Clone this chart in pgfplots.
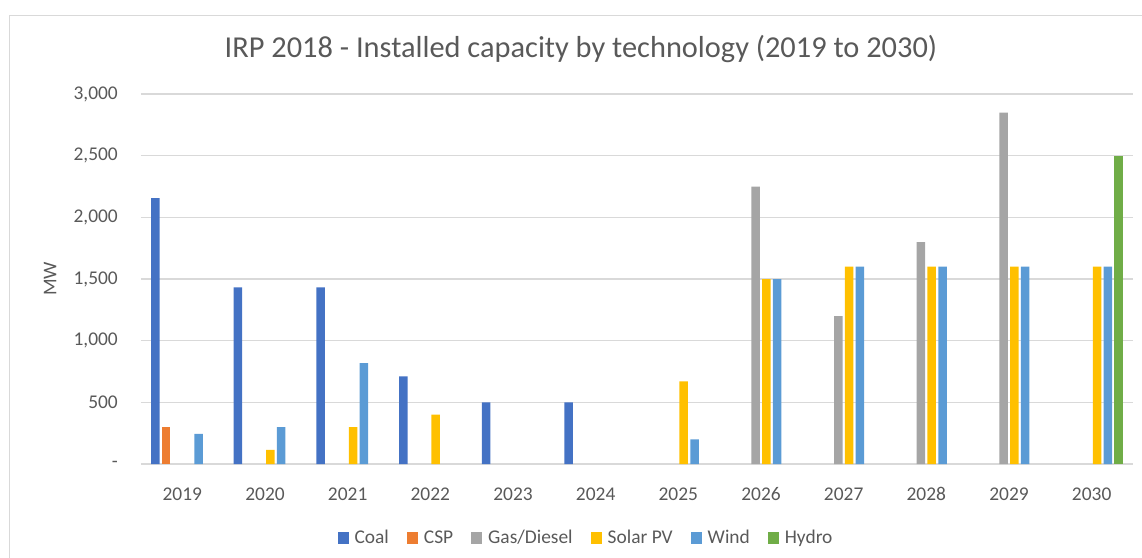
\documentclass[border=0pt]{standalone}
\usepackage{fontspec}
\setmainfont{Carlito}
\usepackage{pgfplots}
\pgfplotsset{compat=1.18}

\definecolor{txt}{HTML}{595959}
\definecolor{gridc}{HTML}{D9D9D9}
\definecolor{coal}{HTML}{4472C4}
\definecolor{csp}{HTML}{ED7D31}
\definecolor{gas}{HTML}{A5A5A5}
\definecolor{solar}{HTML}{FFC000}
\definecolor{wind}{HTML}{5B9BD5}
\definecolor{hydro}{HTML}{70AD47}

\begin{document}
\begin{tikzpicture}
\useasboundingbox (-141bp,-94bp) rectangle (1001bp,464bp);
% chart area frame (only left and top edges are inside the picture)
\draw[gridc, line width=1bp] (-131bp,-94bp) -- (-131bp,448bp) -- (1001bp,448bp);
\begin{axis}[
    at={(0,0)}, anchor=south west,
    scale only axis, width=992bp, height=370bp,
    xmin=2018.5, xmax=2030.5, ymin=0, ymax=3000,
    ybar=2.3bp, bar width=8.5bp,
    axis line style={draw=none},
    major tick length=0pt,
    ymajorgrids, grid style={gridc, line width=1.3bp},
    xtick={2019,2020,2021,2022,2023,2024,2025,2026,2027,2028,2029,2030},
    xticklabels={2019,2020,2021,2022,2023,2024,2025,2026,2027,2028,2029,2030},
    ytick={0,500,1000,1500,2000,2500,3000},
    yticklabels={{-\hspace{9bp}},500,{1,000},{1,500},{2,000},{2,500},{3,000}},
    ticklabel style={font=\fontsize{19.5}{23}\selectfont, text=txt},
    yticklabel style={inner sep=0pt, anchor=east, xshift=-23bp},
    xticklabel style={inner sep=0pt, anchor=base, yshift=-36bp},
    ylabel={MW},
    ylabel style={at={(axis description cs:-0.0917,0.5)}, anchor=center,
        font=\fontsize{19.5}{23}\selectfont, text=txt},
    title={IRP 2018 - Installed capacity by technology (2019 to 2030)},
    title style={at={(axis description cs:0.4435,1)}, anchor=base, yshift=31bp,
        font=\fontsize{30.5}{36}\selectfont, text=txt},
    legend columns=6,
    legend style={at={(axis description cs:0.4486,-0.2)}, anchor=center,
        draw=none, fill=none, font=\fontsize{19.5}{23}\selectfont, text=txt,
        /tikz/every odd column/.append style={column sep=4bp},
        /tikz/every even column/.append style={column sep=16bp}},
    legend image code/.code={\fill[#1] (0bp,-5.5bp) rectangle (11bp,5.5bp);},
    every axis plot/.append style={draw=none},
]
\addplot[fill=coal] coordinates {(2019,2155) (2020,1433) (2021,1433) (2022,711) (2023,500) (2024,500)};
\addplot[fill=csp] coordinates {(2019,300)};
\addplot[fill=gas] coordinates {(2026,2250) (2027,1200) (2028,1800) (2029,2850)};
\addplot[fill=solar] coordinates {(2020,114) (2021,300) (2022,400) (2025,670) (2026,1500) (2027,1600) (2028,1600) (2029,1600) (2030,1600)};
\addplot[fill=wind] coordinates {(2019,244) (2020,300) (2021,818) (2025,200) (2026,1500) (2027,1600) (2028,1600) (2029,1600) (2030,1600)};
\addplot[fill=hydro] coordinates {(2030,2500)};
\legend{Coal,CSP,Gas/Diesel,Solar PV,Wind,Hydro}
\end{axis}
\end{tikzpicture}
\end{document}
